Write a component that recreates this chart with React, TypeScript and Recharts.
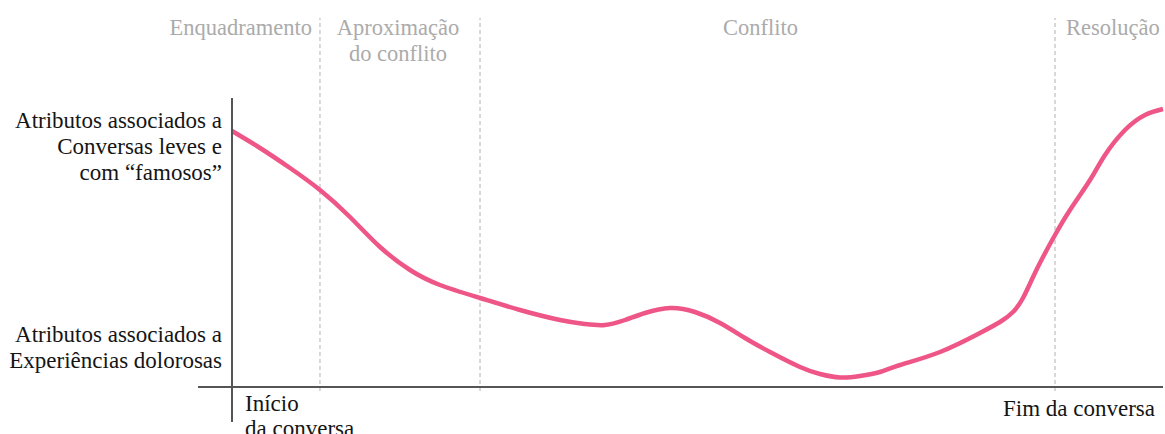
import React from 'react';
import { LineChart, Line, XAxis, YAxis, ReferenceLine, ReferenceDot } from 'recharts';

// progress of the conversation (0 = start, 100 = end)
const progress = [0, 3.01, 6.23, 9.45, 12.67, 15.9, 19.12, 22.34, 26.64, 30.93, 35.23, 37.92, 40.06, 42.21, 44.36, 47.05, 49.73, 52.42, 55.1, 57.79, 61.01, 63.16, 65.31, 67.45, 69.6, 71.75, 76.05, 80.34, 82.49, 83.89, 84.96, 86.04, 87.11, 88.4, 90.01, 92.16, 93.77, 95.92, 98.07, 100];
// tone of the attributes (higher = light conversation, lower = painful experiences)
const tone = [256, 239, 219, 197, 170, 140, 117, 102, 89, 77, 67, 63, 62, 67, 74, 79, 75, 64, 49, 35, 20, 13, 9.5, 11, 15, 22, 35, 54, 65, 75, 89, 110, 130, 152, 177, 207, 232, 257, 272, 278];

const yTickValues = [241, 40];
const yTickLabels = [
  ['Atributos associados a', 'Conversas leves e', 'com “famosos”'],
  ['Atributos associados a', 'Experiências dolorosas'],
];
const xTickValues = [0, 100];
const xTickLabels = [['Início', 'da conversa'], ['Fim da conversa']];

const sectionNames = [['Enquadramento'], ['Aproximação', 'do conflito'], ['Conflito'], ['Resolução']];
const sectionBounds = [0, 9.45, 26.64, 88.4, 100];

const data = progress.map((t, i) => ({ t, v: tone[i] }));

const SERIF = "'Liberation Serif', Tinos, 'Times New Roman', 'DejaVu Serif', serif";
const BLACK = '#151515';
const GRAY = '#ababab';
const AXIS = '#555555';
const PINK = '#EF5688';

// layout of section labels (style only)
const sectionLabelLayout = [
  { ref: 'end', anchor: 'end', dx: -8 },
  { ref: 'mid', anchor: 'middle', dx: -2 },
  { ref: 'mid', anchor: 'middle', dx: -7 },
  { ref: 'start', anchor: 'start', dx: 11 },
];

const YTick = (props: any) => {
  const { x, y, payload } = props;
  const idx = yTickValues.indexOf(payload.value);
  const lines = yTickLabels[idx] || [];
  const lh = 26;
  const start = y - ((lines.length - 1) * lh) / 2;
  return (
    <text textAnchor="end" style={{ fontFamily: SERIF, fontSize: 23 }} fill={BLACK}>
      {lines.map((l, i) => (
        <tspan key={i} x={x} y={start + i * lh} dy="0.35em">{l}</tspan>
      ))}
    </text>
  );
};

const XTick = (props: any) => {
  const { x, y, payload } = props;
  const idx = xTickValues.indexOf(payload.value);
  const lines = xTickLabels[idx] || [];
  const first = idx === 0;
  const lx = first ? x + 13 : x - 8;
  const ly = first ? y - 19 : y - 14;
  return (
    <text textAnchor={first ? 'start' : 'end'} style={{ fontFamily: SERIF, fontSize: 23 }} fill={BLACK}>
      {lines.map((l, i) => (
        <tspan key={i} x={lx} y={ly + i * 25} dy="0.35em">{l}</tspan>
      ))}
    </text>
  );
};

export default function App() {
  return (
    <div style={{ position: 'absolute', left: 0, top: 0, width: 1165, height: 434, background: '#fff', fontFamily: SERIF }}>
      <LineChart width={1165} height={434} data={data} margin={{ top: 98, right: 2, bottom: 0, left: 0 }}>
        <XAxis
          dataKey="t"
          type="number"
          domain={[0, 100]}
          ticks={xTickValues}
          interval={0}
          axisLine={false}
          tickLine={false}
          tickSize={0}
          tickMargin={0}
          height={12}
          tick={<XTick />}
        />
        <YAxis
          type="number"
          domain={[-35, 289]}
          ticks={yTickValues}
          interval={0}
          width={232}
          axisLine={{ stroke: AXIS, strokeWidth: 2 }}
          tickLine={false}
          tickSize={0}
          tickMargin={10}
          tick={<YTick />}
        />
        {sectionBounds.slice(1, -1).map((b, i) => (
          <ReferenceLine
            key={'b' + i}
            segment={[{ x: b, y: -4 }, { x: b, y: 369 }]}
            stroke="#c4c4c4"
            strokeWidth={1.3}
            strokeDasharray="4 3"
            ifOverflow="visible"
          />
        ))}
        <ReferenceLine
          segment={[{ x: -3.65, y: 0 }, { x: 100, y: 0 }]}
          stroke={AXIS}
          strokeWidth={2}
          ifOverflow="visible"
        />
        {sectionNames.map((lines, i) => {
          const lay = sectionLabelLayout[i];
          const s = sectionBounds[i];
          const e = sectionBounds[i + 1];
          const at = lay.ref === 'end' ? e : lay.ref === 'start' ? s : (s + e) / 2;
          return (
            <ReferenceDot
              key={'s' + i}
              x={at}
              y={360}
              r={0}
              ifOverflow="visible"
              shape={(p: any) => (
                <text textAnchor={lay.anchor as any} style={{ fontFamily: SERIF, fontSize: 22.5 }} fill={GRAY}>
                  {lines.map((l, j) => (
                    <tspan key={j} x={p.cx + lay.dx} y={p.cy + j * 26} dy="0.35em">{l}</tspan>
                  ))}
                </text>
              )}
            />
          );
        })}
        <Line
          type="natural"
          dataKey="v"
          stroke={PINK}
          strokeWidth={4.5}
          dot={false}
          activeDot={false}
          isAnimationActive={false}
        />
      </LineChart>
    </div>
  );
}
